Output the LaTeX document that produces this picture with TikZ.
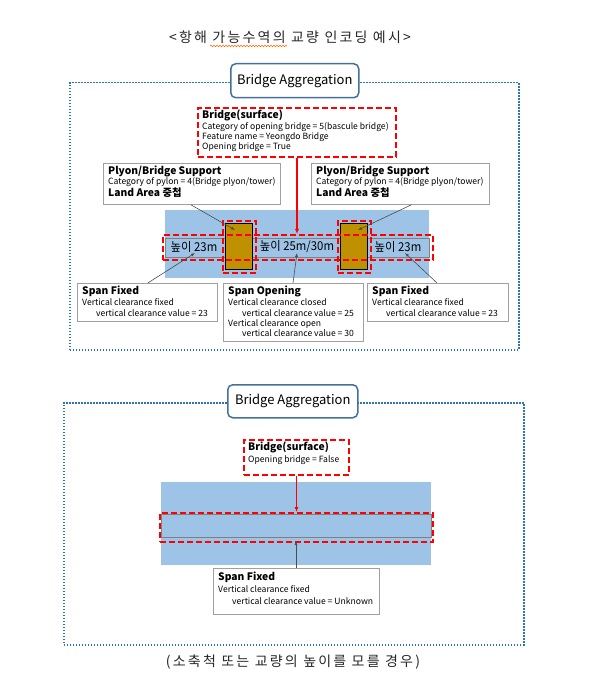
\documentclass[tikz,border=0pt]{standalone}
\usepackage{fontspec}
\setmainfont{Noto Sans CJK KR}
\newfontfamily\capfont[LetterSpace=16]{Noto Sans CJK KR}
\newfontfamily\lblfont[FakeStretch=0.93]{Noto Sans CJK KR}
\usetikzlibrary{arrows.meta,decorations.pathmorphing}
\definecolor{framecol}{HTML}{2E75B6}
\definecolor{aggcol}{HTML}{41719C}
\definecolor{watercol}{HTML}{9DC3E6}
\definecolor{pyloncol}{HTML}{BF9000}
\definecolor{boxline}{HTML}{A0A0A0}
\definecolor{redd}{HTML}{FF0000}
\newcommand{\hfnt}{\fontsize{10.3}{12}\selectfont\bfseries}
\newcommand{\sfnt}{\fontsize{8.6}{10.2}\selectfont}
\begin{document}
\begin{tikzpicture}[x=1pt,y=-1pt,
  frame/.style={draw=framecol, line width=1.5pt, dash pattern=on 1.5pt off 1.5pt},
  aggbox/.style={draw=aggcol, line width=1.5pt, rounded corners=5pt, fill=white, inner sep=0pt, anchor=north west},
  reddash/.style={draw=redd, line width=2pt, dash pattern=on 6pt off 3pt, inner sep=0pt, anchor=north west},
  infobox/.style={draw=boxline, line width=0.8pt, fill=white, inner sep=0pt, anchor=north west},
  water/.style={fill=watercol, inner sep=0pt, anchor=north west},
  stripbox/.style={draw=gray, line width=1pt, fill=watercol, inner sep=0pt, anchor=north west},
  pylon/.style={draw=black, line width=1pt, fill=pyloncol, inner sep=0pt, anchor=north west},
  txt/.style={anchor=north west, align=left, inner sep=0pt, font=\sfnt},
  lbl/.style={font=\lblfont\fontsize{12.2}{14}\selectfont, inner sep=0pt},
  aggtxt/.style={font=\fontsize{13}{15}\selectfont, inner sep=0pt},
  captxt/.style={inner sep=0pt, text=black!85, font=\capfont\fontsize{14}{16}\selectfont},
  ptr/.style={draw=black!70, line width=0.6pt, -{Latex[length=4pt,width=3pt]}},
  redarrow/.style={draw=redd, line width=1.2pt, -{Latex[length=5pt,width=4pt]}}
]
\useasboundingbox (0,0) rectangle (588,692);

% ===== captions =====
\node[captxt] (cap1) at (290,37) {<항해 가능수역의 교량 인코딩 예시>};
\node[captxt] (cap2) at (293,662) {(소축척 또는 교량의 높이를 모를 경우)};
\coordinate (sq1) at (210,46);
\coordinate (sq2) at (287,46);
\draw[orange!80!red, line width=0.5pt, decorate, decoration={snake, amplitude=0.8pt, segment length=3pt}] (sq1) -- (sq2);

% ===== TOP DIAGRAM =====
\node[frame, minimum width=449pt, minimum height=267pt, inner sep=0pt, anchor=north west] (frame1) at (69,82) {};
\node[aggbox, minimum width=128pt, minimum height=34pt] (agg1) at (230,63) {};
\node[aggtxt] (agg1t) at (agg1.center) {Bridge Aggregation};

% water and strip
\node[water, minimum width=264pt, minimum height=68pt] (water1) at (165,210) {};
\node[stripbox, minimum width=264pt, minimum height=19pt] (strip1) at (165,238) {};
\node[pylon, minimum width=27pt, minimum height=46pt] (pylL) at (225,223) {};
\node[pylon, minimum width=27pt, minimum height=46pt] (pylR) at (340,223) {};
\node[reddash, minimum width=270pt, minimum height=25pt] (span1) at (162,234) {};
\node[reddash, minimum width=33pt, minimum height=52pt] (pylLd) at (222,220) {};
\node[reddash, minimum width=33pt, minimum height=52pt] (pylRd) at (337,220) {};
\node[lbl] (h1) at (194,247) {높이 23m};
\node[lbl] (h2) at (297,247) {높이 25m/30m};
\node[lbl] (h3) at (398,247) {높이 23m};

% bridge surface box
\node[reddash, minimum width=198pt, minimum height=49pt] (bridge1) at (197,107) {};
\node[txt] (bridge1t) at ([shift={(5,3)}]bridge1.north west) {{\hfnt Bridge(surface)}\\[0pt]Category of opening bridge = 5(bascule bridge)\\Feature name = Yeongdo Bridge\\Opening bridge = True};
\draw[redarrow] (bridge1.south) -- (bridge1.south |- span1.north);

% plyon boxes
\node[infobox, minimum width=177pt, minimum height=41pt] (plyL) at (103,163) {};
\node[txt] (plyLt) at ([shift={(5,3)}]plyL.north west) {{\hfnt Plyon/Bridge Support}\\[0pt]Category of pylon = 4(Bridge plyon/tower)\\[0pt]{\hfnt Land Area 중첩}};
\node[infobox, minimum width=178pt, minimum height=41pt] (plyR) at (311,163) {};
\node[txt] (plyRt) at ([shift={(5,3)}]plyR.north west) {{\hfnt Plyon/Bridge Support}\\[0pt]Category of pylon = 4(Bridge plyon/tower)\\[0pt]{\hfnt Land Area 중첩}};
\coordinate (pL) at (235,230);
\coordinate (pR) at (358,230);
\draw[ptr] ([xshift=-1pt]plyL.south) -- (pL);
\draw[ptr] ([xshift=11pt]plyR.south) -- (pR);

% span boxes
\node[infobox, minimum width=140pt, minimum height=38pt] (sfL) at (77,283) {};
\node[txt] (sfLt) at ([shift={(5,3)}]sfL.north west) {{\hfnt Span Fixed}\\[1pt]Vertical clearance fixed\\\hspace*{14pt}vertical clearance value = 23};
\node[infobox, minimum width=140pt, minimum height=58pt] (so) at (223,283) {};
\node[txt] (sot) at ([shift={(5,3)}]so.north west) {{\hfnt Span Opening}\\[1pt]Vertical clearance closed\\\hspace*{14pt}vertical clearance value = 25\\Vertical clearance open\\\hspace*{14pt}vertical clearance value = 30};
\node[infobox, minimum width=141pt, minimum height=38pt] (sfR) at (367,283) {};
\node[txt] (sfRt) at ([shift={(5,3)}]sfR.north west) {{\hfnt Span Fixed}\\[1pt]Vertical clearance fixed\\\hspace*{14pt}vertical clearance value = 23};
\coordinate (sL) at (195,253);
\coordinate (sM) at (297,253);
\coordinate (sR) at (405,253);
\draw[ptr] ([xshift=-70pt]sfL.north east) -- (sL);
\draw[ptr] ([xshift=70pt]so.north west) -- (sM);
\draw[ptr] ([xshift=70pt]sfR.north west) -- (sR);

% ===== BOTTOM DIAGRAM =====
\node[frame, minimum width=460pt, minimum height=242pt, inner sep=0pt, anchor=north west] (frame2) at (63,402) {};
\node[aggbox, minimum width=130pt, minimum height=33pt] (agg2) at (227,384) {};
\node[aggtxt] (agg2t) at (agg2.center) {Bridge Aggregation};

\node[water, minimum width=270pt, minimum height=83pt] (water2) at (161,482) {};
\node[stripbox, minimum width=270pt, minimum height=23pt] (strip2) at (161,514) {};
\node[reddash, minimum width=273pt, minimum height=29pt] (span2) at (159,512) {};

\node[reddash, minimum width=105pt, minimum height=35pt] (bridge2) at (243,439) {};
\node[txt] (bridge2t) at ([shift={(5,3)}]bridge2.north west) {{\hfnt Bridge(surface)}\\[1pt]Opening bridge = False};
\draw[redarrow, line width=1.6pt] (bridge2.south) -- (bridge2.south |- span2.north);

\node[infobox, minimum width=166pt, minimum height=46pt] (sf2) at (213,568) {};
\node[txt] (sf2t) at ([shift={(5,4)}]sf2.north west) {{\hfnt Span Fixed}\\[2pt]Vertical clearance fixed\\[1pt]\hspace*{14pt}vertical clearance value = Unknown};
\coordinate (s2) at (296,541);
\draw[ptr] (sf2.north -| s2) -- (s2);
\end{tikzpicture}
\end{document}
